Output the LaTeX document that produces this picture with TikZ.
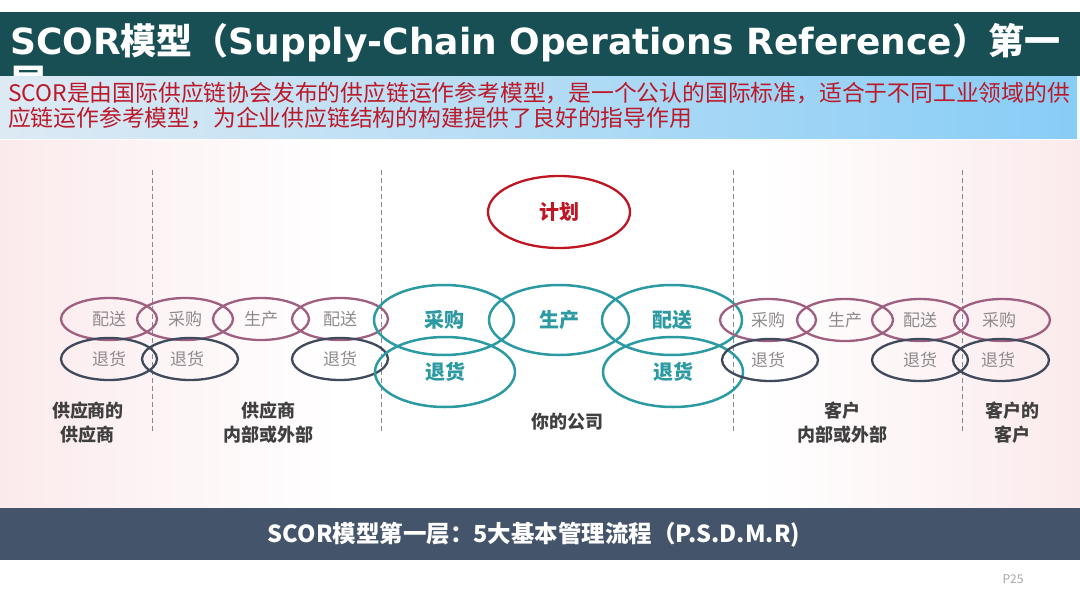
\documentclass[tikz,border=0pt]{standalone}
\usepackage{fontspec}
\usetikzlibrary{shapes.geometric}
\newfontfamily\cjk{Noto Sans CJK SC}
\newfontfamily\dv{DejaVu Sans}
\definecolor{titlebar}{HTML}{174F55}
\definecolor{bandL}{HTML}{DDEAF4}
\definecolor{bandR}{HTML}{88CDF6}
\definecolor{bgpink}{HTML}{FBEAEC}
\definecolor{botbar}{HTML}{44546A}
\definecolor{mauve}{HTML}{9E5F80}
\definecolor{slate}{HTML}{3F4A5C}
\definecolor{teal}{HTML}{2C9AA2}
\definecolor{redd}{HTML}{BE1622}
\definecolor{txtgrey}{HTML}{8E8A8E}
\definecolor{lblgrey}{HTML}{404040}
\definecolor{dashgrey}{HTML}{7F8C99}
\definecolor{desc}{HTML}{BB1A2A}
\tikzset{
  smallM/.style={ellipse, draw=mauve, line width=2.3pt, minimum width=96pt, minimum height=42pt, inner sep=0pt, text=txtgrey, font=\cjk\fontsize{17}{20}\selectfont},
  smallS/.style={ellipse, draw=slate, line width=2.3pt, minimum width=96pt, minimum height=42pt, inner sep=0pt, text=txtgrey, font=\cjk\fontsize{17}{20}\selectfont},
  bigT/.style={ellipse, draw=teal, line width=2.5pt, minimum width=140pt, minimum height=70pt, inner sep=0pt, text=teal, font=\cjk\bfseries\fontsize{20}{24}\selectfont},
  planbox/.style={ellipse, draw=redd, line width=2.3pt, minimum width=142pt, minimum height=72pt, inner sep=0pt, text=redd, font=\cjk\bfseries\fontsize{20}{24}\selectfont},
  lbl/.style={align=center, text=lblgrey, inner sep=0pt, font=\cjk\bfseries\fontsize{18}{24}\selectfont},
  divider/.style={draw=dashgrey, line width=0.8pt, dash pattern=on 5pt off 3pt},
}
\begin{document}
\begin{tikzpicture}[x=1pt,y=-1pt]
\useasboundingbox (0,0) rectangle (1080,608);
\fill[white] (0,0) rectangle (1080,608);
% title bar
\fill[titlebar] (0,12) rectangle (1080,76);
\node[anchor=base west, inner sep=0pt, text=white] (title) at (10,54)
  {\fontsize{36}{40}\selectfont\dv\bfseries SCOR\cjk\bfseries 模型（\dv\bfseries Supply-Chain Operations Reference\cjk\bfseries ）第一};
\begin{scope}
\clip (0,12) rectangle (1080,76);
\node[anchor=base west, inner sep=0pt, text=white] (title2) at (10,95)
  {\fontsize{36}{40}\selectfont\cjk\bfseries 层};
\end{scope}
% description band
\shade[left color=bandL, right color=bandR] (0,76) rectangle (1077,138);
\node[anchor=base west, inner sep=0pt, text=desc] (desc1) at (8,101)
  {\cjk\fontsize{22.8}{26}\selectfont SCOR是由国际供应链协会发布的供应链运作参考模型，是一个公认的国际标准，适合于不同工业领域的供};
\node[anchor=base west, inner sep=0pt, text=desc] (desc2) at (8,126)
  {\cjk\fontsize{22.8}{26}\selectfont 应链运作参考模型，为企业供应链结构的构建提供了良好的指导作用};
% diagram background
\fill[white] (0,140) rectangle (1080,508);
\shade[left color=bgpink, right color=white] (0,140) rectangle (340,508);
\shade[left color=white, right color=bgpink] (760,140) rectangle (1080,508);
% dividers
\coordinate (d1t) at (152,170); \coordinate (d1b) at (152,432);
\coordinate (d2t) at (381,170); \coordinate (d2b) at (381,432);
\coordinate (d3t) at (733,170); \coordinate (d3b) at (733,432);
\coordinate (d4t) at (962,170); \coordinate (d4b) at (962,432);
\draw[divider] (d1t) -- (d1b);
\draw[divider] (d2t) -- (d2b);
\draw[divider] (d3t) -- (d3b);
\draw[divider] (d4t) -- (d4b);
% plan
\node[planbox] (plan) at (559,212) {计划};
% left small ellipses
\node[smallM] (lD1) at (109,319) {配送};
\node[smallM] (lS) at (185,319) {采购};
\node[smallM] (lM) at (261,319) {生产};
\node[smallM] (lD2) at (340,319) {配送};
\node[smallS] (lR1) at (109,359) {退货};
\node[smallS] (lR2) at (190,359) {\hspace*{-6pt}退货};
\node[smallS] (lR3) at (340,359) {退货};
% company
\node[bigT] (cS) at (444,320) {采购};
\node[bigT] (cM) at (559,320) {生产};
\node[bigT] (cD) at (672,320) {配送};
\node[bigT] (cR1) at (445,372) {退货};
\node[bigT] (cR2) at (673,372) {退货};
% right small ellipses
\node[smallM] (rS) at (768,320) {采购};
\node[smallM] (rM) at (845,320) {生产};
\node[smallM] (rD) at (920,320) {配送};
\node[smallM] (rS2) at (1002,320) {\hspace*{-6pt}采购};
\node[smallS] (rR1) at (770,360) {\hspace*{-4pt}退货};
\node[smallS] (rR2) at (920,360) {退货};
\node[smallS] (rR3) at (1001,360) {\hspace*{-6pt}退货};
% labels
\node[lbl] (l1) at (88,423) {供应商的\\供应商};
\node[lbl] (l2) at (268,423) {供应商\\内部或外部};
\node[lbl] (l3) at (567,422) {你的公司};
\node[lbl] (l4) at (842,423) {客户\\内部或外部};
\node[lbl] (l5) at (1012,423) {客户的\\客户};
% bottom bar
\fill[botbar] (0,508) rectangle (1080,560);
\node[inner sep=0pt, text=white] (bottom) at (534,535)
  {\resizebox{532pt}{!}{\cjk\bfseries\fontsize{21}{24}\selectfont SCOR模型第一层：5大基本管理流程（P.S.D.M.R)}};
\node[inner sep=0pt, text=black!35] (page) at (1013,579) {\cjk\fontsize{12}{14}\selectfont P25};
\end{tikzpicture}
\end{document}
